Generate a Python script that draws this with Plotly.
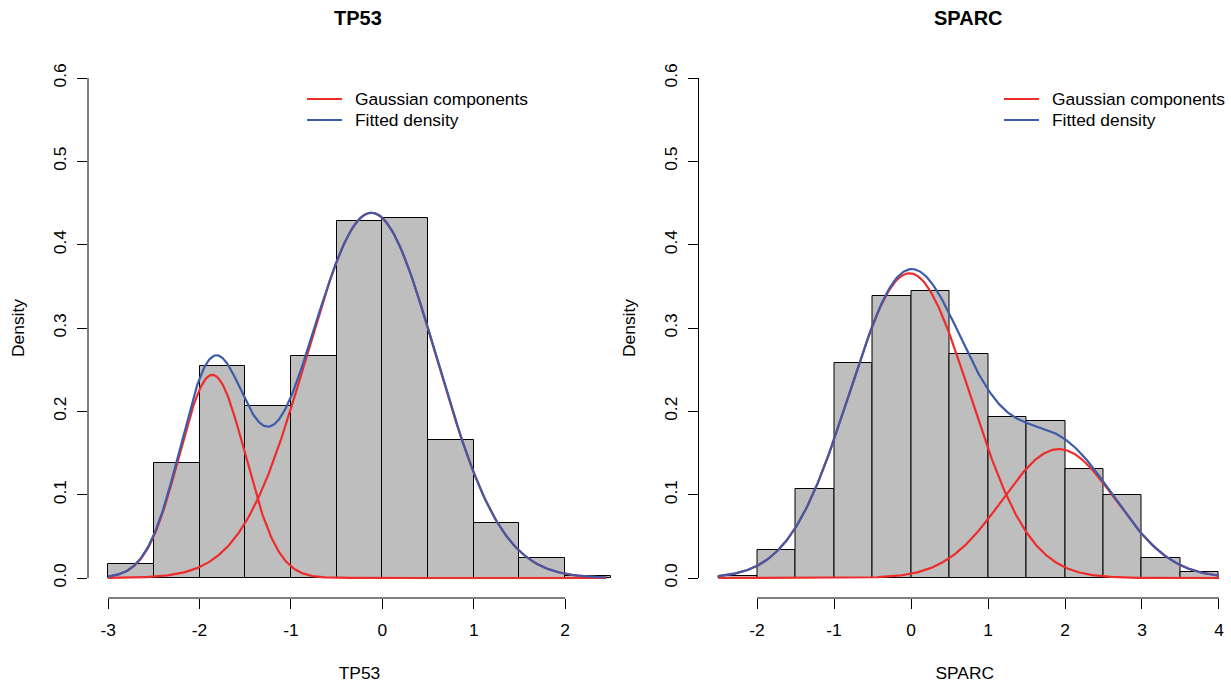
import numpy as np
import plotly.graph_objects as go

W, H = 1231, 686

# ---------------- data ----------------
tp53_breaks = [-3.0, -2.5, -2.0, -1.5, -1.0, -0.5, 0.0, 0.5, 1.0, 1.5, 2.0, 2.5]
tp53_density = [0.017, 0.138, 0.255, 0.207, 0.266, 0.428, 0.432, 0.166, 0.066, 0.024, 0.003]
tp53_weights = [0.22, 0.78]
tp53_means = [-1.86, -0.12]
tp53_sds = [0.36, 0.71]
tp53_curve_span = [-3.0, 2.45]
tp53_xticks = [-3, -2, -1, 0, 1, 2]
tp53_xticktext = ["-3", "-2", "-1", "0", "1", "2"]

sparc_breaks = [-2.5, -2.0, -1.5, -1.0, -0.5, 0.0, 0.5, 1.0, 1.5, 2.0, 2.5, 3.0, 3.5, 4.0]
sparc_density = [0.003, 0.034, 0.107, 0.258, 0.338, 0.345, 0.269, 0.193, 0.189, 0.131, 0.100, 0.024, 0.007]
sparc_weights = [0.715, 0.285]
sparc_means = [-0.02, 1.92]
sparc_sds = [0.78, 0.735]
sparc_curve_span = [-2.5, 4.0]
sparc_xticks = [-2, -1, 0, 1, 2, 3, 4]
sparc_xticktext = ["-2", "-1", "0", "1", "2", "3", "4"]

y_ticks = [0.0, 0.1, 0.2, 0.3, 0.4, 0.5, 0.6]
y_ticktext = ["0.0", "0.1", "0.2", "0.3", "0.4", "0.5", "0.6"]

legend_labels = ["Gaussian components", "Fitted density"]

RED = "#EE2C2C"
BLUE = "#3E5BA9"
FONT = "Liberation Sans, Arial, Helvetica, sans-serif"
FS = 17.4


def npdf(x, m, s):
    return np.exp(-0.5 * ((x - m) / s) ** 2) / (s * np.sqrt(2 * np.pi))


fig = go.Figure()


def add_panel(breaks, dens, weights, means, sds, span, xa, ya):
    b = np.array(breaks)
    mids = (b[:-1] + b[1:]) / 2
    widths = np.diff(b)
    fig.add_trace(go.Bar(x=mids, y=dens, width=widths,
                         marker=dict(color="#BEBEBE", line=dict(color="black", width=1)),
                         showlegend=False, xaxis=xa, yaxis=ya, hoverinfo="skip"))
    xs = np.linspace(span[0], span[1], 500)
    total = np.zeros_like(xs)
    for k, (w, m, s) in enumerate(zip(weights, means, sds)):
        comp = w * npdf(xs, m, s)
        total += comp
        fig.add_trace(go.Scatter(x=xs, y=comp, mode="lines", line=dict(color=RED, width=2.2),
                                 name=legend_labels[0], showlegend=False, xaxis=xa, yaxis=ya))
    fig.add_trace(go.Scatter(x=xs, y=total, mode="lines", line=dict(color=BLUE, width=2.2),
                             name=legend_labels[1], showlegend=False, xaxis=xa, yaxis=ya))


add_panel(tp53_breaks, tp53_density, tp53_weights, tp53_means, tp53_sds, tp53_curve_span, "x", "y")
add_panel(sparc_breaks, sparc_density, sparc_weights, sparc_means, sparc_sds, sparc_curve_span, "x2", "y2")

# pixel geometry (R base-graphics look)
y_dom = [(H - 598) / H, (H - 58) / H]
left_dom = [88 / W, 631 / W]
right_dom = [698.5 / W, 1.0]

axis_common = dict(showgrid=False, zeroline=False, showline=False, ticks="outside", ticklen=10,
                   tickwidth=1, tickcolor="black", tickfont=dict(family=FONT, size=FS, color="black"))
xcommon = dict(ticklabelstandoff=6, **axis_common)
ycommon = dict(ticklabelstandoff=4, tickangle=-90, tickvals=y_ticks, ticktext=y_ticktext,
               range=[-0.024, 0.624], domain=y_dom, **axis_common)

fig.update_layout(
    width=W, height=H, margin=dict(l=0, r=0, t=0, b=0),
    paper_bgcolor="white", plot_bgcolor="white", bargap=0,
    font=dict(family=FONT, size=FS, color="black"),
    showlegend=False,
    xaxis=dict(domain=left_dom, range=[-3.22, 2.72], tickvals=tp53_xticks, ticktext=tp53_xticktext,
               anchor="y", title=dict(text="TP53", standoff=27, font=dict(size=FS)), **xcommon),
    yaxis=dict(anchor="x", title=dict(text="Density", standoff=20, font=dict(size=FS)), **ycommon),
    xaxis2=dict(domain=right_dom, range=[-2.76, 4.156], tickvals=sparc_xticks, ticktext=sparc_xticktext,
                anchor="y2", title=dict(text="SPARC", standoff=27, font=dict(size=FS)), **xcommon),
    yaxis2=dict(anchor="x2", title=dict(text="Density", standoff=20, font=dict(size=FS)), **ycommon),
)

# R-style axis lines that span only the tick range
for xa, ya, xt in [("x", "y", tp53_xticks), ("x2", "y2", sparc_xticks)]:
    fig.add_shape(type="line", xref=xa, yref=ya + " domain", x0=xt[0], x1=xt[-1], y0=0, y1=0,
                  line=dict(color="black", width=1))
    fig.add_shape(type="line", xref=xa + " domain", yref=ya, x0=0, x1=0, y0=y_ticks[0], y1=y_ticks[-1],
                  line=dict(color="black", width=1))

# panel titles
for txt, xc in [("TP53", 358), ("SPARC", 968.5)]:
    fig.add_annotation(text="<b>%s</b>" % txt, x=xc / W, y=(H - 18) / H, xref="paper", yref="paper",
                       showarrow=False, font=dict(family=FONT, size=20, color="black"),
                       xanchor="center", yanchor="middle")

# R-style legends (line sample + label), top-right of each panel
for x_line in [307, 1004]:
    for lab, col, yc in [(legend_labels[0], RED, 99), (legend_labels[1], BLUE, 120)]:
        fig.add_shape(type="line", xref="paper", yref="paper", x0=x_line / W, x1=(x_line + 35) / W,
                      y0=(H - yc) / H, y1=(H - yc) / H, line=dict(color=col, width=2.2))
        fig.add_annotation(text=lab, x=(x_line + 46) / W, y=(H - yc) / H, xref="paper", yref="paper",
                           showarrow=False, xanchor="left", yanchor="middle",
                           font=dict(family=FONT, size=FS, color="black"))

fig.write_html("out.html", config={"displayModeBar": False},
               post_script="document.body.style.margin='0';document.body.style.overflow='hidden';")
